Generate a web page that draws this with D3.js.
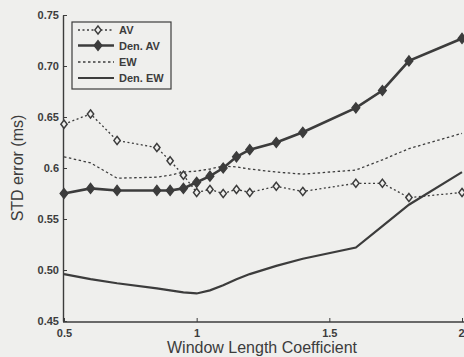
<!DOCTYPE html>
<html lang="en">
<head>
<meta charset="utf-8">
<title>STD error vs window length</title>
<script src="https://d3js.org/d3.v7.min.js"></script>
<style>
  body { margin: 0; background: #efefed; }
  svg { display: block; font-family: "Liberation Sans", Arial, sans-serif; }
</style>
</head>
<body>
<script>
// data
var coef = [0.5, 0.6, 0.7, 0.85, 0.9, 0.95, 1.0, 1.05, 1.1, 1.15, 1.2, 1.3, 1.4, 1.6, 1.7, 1.8, 2.0];
var av    = [0.643, 0.653, 0.627, 0.620, 0.607, 0.593, 0.576, 0.579, 0.575, 0.579, 0.576, 0.582, 0.577, 0.585, 0.585, 0.571, 0.576];
var denAv = [0.575, 0.580, 0.578, 0.578, 0.578, 0.580, 0.586, 0.592, 0.600, 0.611, 0.618, 0.625, 0.635, 0.659, 0.676, 0.705, 0.727];
var ew    = [0.611, 0.605, 0.590, 0.591, 0.593, 0.596, 0.597, 0.599, 0.602, 0.601, 0.599, 0.596, 0.594, 0.598, 0.608, 0.619, 0.634];
var denEw = [0.496, 0.491, 0.487, 0.482, 0.480, 0.478, 0.477, 0.480, 0.485, 0.491, 0.496, 0.504, 0.511, 0.522, 0.543, 0.564, 0.596];

var xTicks = [0.5, 1, 1.5, 2];
var xTickLabels = ["0.5", "1", "1.5", "2"];
var yTicks = [0.45, 0.50, 0.55, 0.6, 0.65, 0.70, 0.75];
var yTickLabels = ["0.45", "0.50", "0.55", "0.6", "0.65", "0.70", "0.75"];

var seriesNames = ["AV", "Den. AV", "EW", "Den. EW"];

var W = 464, H = 357;
var ink = "#3c3c3c";
var bg = "#efefed";

var svg = d3.select("body").append("svg")
  .attr("width", W)
  .attr("height", H);

var x = d3.scaleLinear().domain([0.5, 2]).range([64, 462]);
var y = d3.scaleLinear().domain([0.45, 0.75]).range([321, 15]);

// axes (ticks pointing inward like matlab)
var xAxis = d3.axisBottom(x).tickValues(xTicks)
  .tickFormat(function(d, i){ return xTickLabels[i]; })
  .tickSizeInner(-4).tickSizeOuter(0).tickPadding(7);
var yAxis = d3.axisLeft(y).tickValues(yTicks)
  .tickFormat(function(d, i){ return yTickLabels[i]; })
  .tickSizeInner(-4).tickSizeOuter(0).tickPadding(4);

var gx = svg.append("g").attr("transform", "translate(0," + 322 + ")").call(xAxis);
gx.select(".domain").attr("d", "M" + 63 + ",0H" + 470);
var gy = svg.append("g").attr("transform", "translate(" + 63 + ",0)").call(yAxis);

[gx, gy].forEach(function(g){
  g.select(".domain").attr("stroke", ink).attr("stroke-width", 1.4);
  g.selectAll(".tick line").attr("stroke", ink).attr("stroke-width", 1);
  g.selectAll(".tick text").attr("fill", ink).attr("font-size", 11)
    .attr("font-weight", "bold").style("font-family", "Liberation Sans, Arial, sans-serif");
});
// last x label sits on the right edge, keep it inside
gx.selectAll(".tick text").filter(function(d){ return d == 2; })
  .attr("text-anchor", "end").attr("dx", 2);

// axis titles
svg.append("text")
  .attr("x", 262).attr("y", 353)
  .attr("text-anchor", "middle")
  .attr("font-size", 16).attr("fill", ink)
  .text("Window Length Coefficient");

svg.append("text")
  .attr("transform", "translate(23,168) rotate(-90)")
  .attr("text-anchor", "middle")
  .attr("font-size", 16).attr("fill", ink)
  .text("STD error (ms)");

// series
var line = d3.line()
  .x(function(d){ return x(d[0]); })
  .y(function(d){ return y(d[1]); });

function pts(vals){ return coef.map(function(c, i){ return [c, vals[i]]; }); }

var styles = [
  { vals: ew,    width: 1.3, dash: "2.5,2.5", marker: null },
  { vals: denEw, width: 2.2, dash: null,      marker: null },
  { vals: av,    width: 1.3, dash: "2,2.5",   marker: "open" },
  { vals: denAv, width: 2.6, dash: null,      marker: "filled" }
];

var clip = svg.append("clipPath").attr("id", "plotclip")
  .append("rect").attr("x", 55).attr("y", 0).attr("width", 420).attr("height", 330);

var plot = svg.append("g").attr("clip-path", "url(#plotclip)");

var openSym = d3.symbol().type(d3.symbolDiamond).size(19);
var fillSym = d3.symbol().type(d3.symbolDiamond).size(30);

function marker(sel, kind){
  sel.attr("d", kind == "open" ? openSym : fillSym)
    .attr("fill", kind == "open" ? bg : ink)
    .attr("stroke", ink)
    .attr("stroke-width", kind == "open" ? 1.2 : 1);
}

styles.forEach(function(s){
  plot.append("path")
    .datum(pts(s.vals))
    .attr("d", line)
    .attr("fill", "none")
    .attr("stroke", ink)
    .attr("stroke-width", s.width)
    .attr("stroke-dasharray", s.dash);

  if (s.marker) {
    plot.selectAll(null)
      .data(pts(s.vals))
      .enter()
      .append("path")
      .attr("transform", function(d){ return "translate(" + x(d[0]) + "," + y(d[1]) + ") scale(1.35,1)"; })
      .call(marker, s.marker);
  }
});

// legend
var leg = svg.append("g");
leg.append("rect")
  .attr("x", 72).attr("y", 22).attr("width", 99).attr("height", 67)
  .attr("fill", bg).attr("stroke", ink).attr("stroke-width", 1.2);

var legStyle = [styles[2], styles[3], styles[0], styles[1]];
var legY = [30, 45.5, 62, 78];

seriesNames.forEach(function(name, i){
  var s = legStyle[i];
  leg.append("line")
    .attr("x1", 78).attr("x2", 114)
    .attr("y1", legY[i]).attr("y2", legY[i])
    .attr("stroke", ink)
    .attr("stroke-width", s.width)
    .attr("stroke-dasharray", s.dash);
  if (s.marker) {
    leg.append("path")
      .attr("transform", "translate(98," + legY[i] + ") scale(1.35,1)")
      .call(marker, s.marker);
  }
  leg.append("text")
    .attr("x", 119).attr("y", legY[i] + 4)
    .attr("font-size", 11).attr("font-weight", "bold").attr("fill", ink)
    .text(name);
});
</script>
</body>
</html>
